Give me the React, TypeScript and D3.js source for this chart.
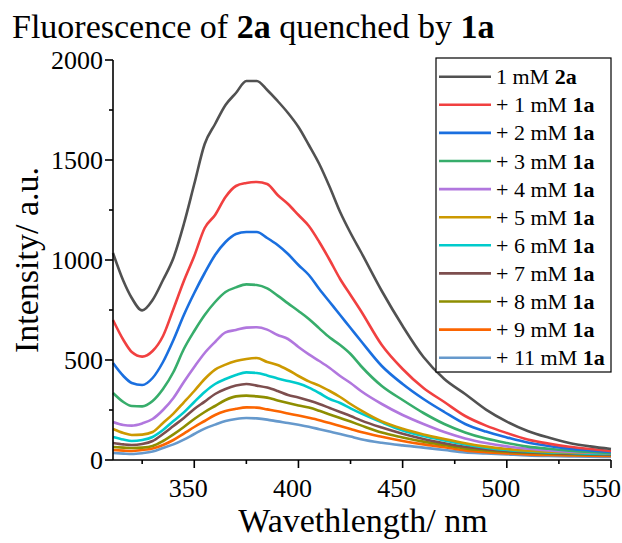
import { useMemo } from 'react';
import * as d3 from 'd3';

const wavelengths = [311, 316, 320, 325, 330, 335, 340, 345, 350, 355, 360, 365, 370, 375, 380, 385, 390, 395, 400, 405, 410, 415, 420, 425, 430, 440, 450, 460, 470, 480, 490, 500, 510, 520, 530, 540, 550];

const pure2a = [1035, 895, 810, 748, 800, 900, 1010, 1180, 1380, 1580, 1680, 1775, 1835, 1895, 1895, 1850, 1795, 1735, 1665, 1575, 1480, 1365, 1240, 1135, 1040, 845, 670, 515, 405, 330, 252, 192, 145, 112, 85, 68, 55];
const add1 = [700, 600, 540, 517, 545, 620, 755, 895, 1020, 1160, 1225, 1315, 1370, 1385, 1390, 1380, 1325, 1280, 1225, 1170, 1090, 1000, 905, 825, 745, 575, 455, 360, 290, 220, 172, 135, 103, 82, 66, 55, 45];
const add2 = [485, 420, 385, 375, 410, 490, 600, 725, 835, 935, 1025, 1090, 1130, 1140, 1140, 1110, 1075, 1030, 975, 925, 855, 790, 725, 660, 595, 470, 380, 305, 240, 180, 142, 113, 87, 70, 57, 48, 40];
const add3 = [335, 290, 270, 268, 295, 355, 440, 555, 645, 725, 790, 840, 863, 878, 875, 858, 822, 783, 745, 705, 658, 612, 575, 530, 470, 370, 300, 235, 180, 138, 107, 85, 67, 56, 47, 40, 35];
const add4 = [190, 175, 172, 183, 205, 250, 310, 390, 465, 535, 590, 638, 650, 662, 664, 652, 625, 605, 565, 528, 495, 460, 420, 385, 345, 280, 225, 180, 140, 108, 85, 68, 56, 48, 42, 38, 35];
const add5 = [155, 135, 125, 127, 140, 185, 232, 288, 345, 405, 452, 477, 495, 505, 510, 490, 475, 450, 420, 393, 372, 345, 315, 280, 248, 193, 156, 128, 105, 84, 67, 55, 46, 41, 38, 36, 34];
const add6 = [115, 102, 95, 100, 115, 150, 195, 238, 290, 340, 380, 405, 425, 438, 435, 423, 408, 395, 382, 362, 335, 305, 285, 258, 233, 188, 148, 120, 98, 78, 62, 50, 43, 38, 35, 32, 30];
const add7 = [85, 78, 75, 80, 95, 130, 170, 210, 255, 292, 330, 355, 372, 380, 372, 362, 345, 325, 312, 297, 280, 260, 240, 220, 198, 162, 131, 105, 84, 66, 54, 45, 39, 35, 32, 29, 27];
const add8 = [65, 62, 60, 62, 70, 95, 128, 165, 205, 240, 270, 300, 318, 322, 318, 312, 298, 285, 273, 262, 246, 228, 210, 192, 173, 137, 113, 92, 75, 58, 48, 41, 36, 32, 29, 27, 25];
const add9 = [50, 47, 45, 50, 58, 75, 100, 132, 165, 195, 225, 245, 256, 263, 262, 253, 244, 233, 222, 211, 199, 185, 170, 155, 140, 116, 95, 78, 64, 48, 39, 33, 28, 25, 23, 21, 20];
const add11 = [35, 32, 30, 34, 42, 60, 78, 102, 130, 157, 177, 195, 205, 210, 208, 202, 193, 185, 176, 166, 154, 142, 130, 117, 104, 86, 73, 62, 50, 38, 33, 28, 23, 20, 18, 16, 15];

const seriesValues = [pure2a, add1, add2, add3, add4, add5, add6, add7, add8, add9, add11];
const legendPrefix = ['1 mM ', '+ 1 mM ', '+ 2 mM ', '+ 3 mM ', '+ 4 mM ', '+ 5 mM ', '+ 6 mM ', '+ 7 mM ', '+ 8 mM ', '+ 9 mM ', '+ 11 mM '];
const legendBold = ['2a', '1a', '1a', '1a', '1a', '1a', '1a', '1a', '1a', '1a', '1a'];
const colors = ['#515151', '#F14040', '#1A6FDF', '#37AD6B', '#B177DE', '#CC9900', '#00CBCC', '#7D4E4E', '#8E8E00', '#FB6501', '#6699CC'];

const xMajor = [350, 400, 450, 500, 550];
const xMinor = [325, 375, 425, 475, 525];
const yMajor = [0, 500, 1000, 1500, 2000];
const yMinor = [250, 750, 1250, 1750];

const W = 622;
const H = 543;
const font = '"Liberation Serif", "Times New Roman", serif';

export default function App() {
  const x = d3.scaleLinear().domain([311, 550]).range([113, 611]);
  const y = d3.scaleLinear().domain([0, 2000]).range([460, 60]);

  const line = useMemo(
    () =>
      d3
        .line<number>()
        .x((_, i) => x(wavelengths[i]))
        .y((d) => y(d))
        .curve(d3.curveMonotoneX),
    []
  );

  const legX = 436;
  const legY = 58;
  const legW = 175;
  const legH = 314;
  const rowH = 28.1;

  return (
    <svg width={W} height={H} style={{ position: 'absolute', left: 0, top: 0, background: '#fff' }} fontFamily={font}>
      <rect width={W} height={H} fill="#fff" />
      <text x={12} y={38} fontSize={34} fill="#000">
        Fluorescence of <tspan fontWeight="bold">2a</tspan> quenched by <tspan fontWeight="bold">1a</tspan>
      </text>

      {/* curves, last drawn first so black ends on top */}
      <g fill="none" strokeWidth={2.6} strokeLinejoin="round">
        {seriesValues
          .map((vals, i) => ({ vals, i }))
          .reverse()
          .map(({ vals, i }) => (
            <path key={i} d={line(vals) || ''} stroke={colors[i]} />
          ))}
      </g>

      {/* axes */}
      <g stroke="#000" strokeWidth={1.6}>
        <line x1={x(311)} x2={x(550)} y1={y(0)} y2={y(0)} />
        <line x1={x(311)} x2={x(311)} y1={y(0)} y2={y(2000)} />
        {xMajor.map((t) => (
          <line key={'xM' + t} x1={x(t)} x2={x(t)} y1={y(0)} y2={y(0) + 8} />
        ))}
        {xMinor.map((t) => (
          <line key={'xm' + t} x1={x(t)} x2={x(t)} y1={y(0)} y2={y(0) + 4} />
        ))}
        {yMajor.map((t) => (
          <line key={'yM' + t} x1={x(311) - 8} x2={x(311)} y1={y(t)} y2={y(t)} />
        ))}
        {yMinor.map((t) => (
          <line key={'ym' + t} x1={x(311) - 4} x2={x(311)} y1={y(t)} y2={y(t)} />
        ))}
      </g>
      <g fontSize={26} fill="#000">
        {xMajor.map((t, i) =>
          i === xMajor.length - 1 ? (
            <text key={'xl' + t} x={621} y={497} textAnchor="end">
              {t}
            </text>
          ) : (
            <text key={'xl' + t} x={x(t) - 6} y={497} textAnchor="middle">
              {t}
            </text>
          )
        )}
        {yMajor.map((t) => (
          <text key={'yl' + t} x={103} y={y(t) + 9} textAnchor="end">
            {t}
          </text>
        ))}
      </g>
      <text x={363} y={532} fontSize={34} textAnchor="middle" fill="#000">
        Wavethlength/ nm
      </text>
      <text transform="translate(38,260) rotate(-90)" fontSize={34} textAnchor="middle" fill="#000">
        Intensity/ a.u.
      </text>

      {/* legend */}
      <rect x={legX} y={legY} width={legW} height={legH} fill="#fff" stroke="#000" strokeWidth={1.2} />
      {legendPrefix.map((p, i) => {
        const cy = legY + 18.7 + i * rowH;
        return (
          <g key={'lg' + i}>
            <line x1={legX + 3} x2={legX + 55} y1={cy} y2={cy} stroke={colors[i]} strokeWidth={2.6} />
            <text x={legX + 60} y={cy + 7.5} fontSize={22} fill="#000">
              {p}
              <tspan fontWeight="bold">{legendBold[i]}</tspan>
            </text>
          </g>
        );
      })}
    </svg>
  );
}
